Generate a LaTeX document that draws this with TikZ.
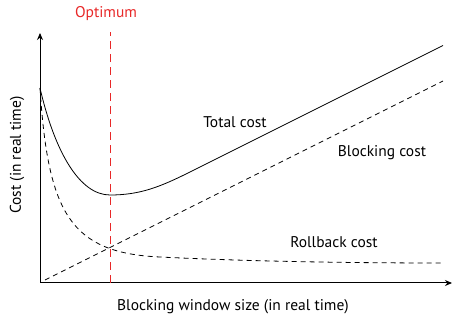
\documentclass[tikz,border=0pt]{standalone}
\usepackage{fontspec}
\setmainfont{PT Sans}
\usetikzlibrary{arrows.meta}
\definecolor{optred}{RGB}{232,40,40}

\begin{document}
\begin{tikzpicture}[font=\fontsize{15.5}{18}\selectfont,x=1pt,y=1pt,
  axis/.style={line width=1pt,-{Stealth[length=7pt,width=6pt]}},
  curve/.style={line width=0.8pt},
  dcurve/.style={line width=0.8pt,dash pattern=on 5pt off 4pt}]
\useasboundingbox (-40,-37) rectangle (415,283);
\coordinate (origin) at (0,0);
\coordinate (ytop) at (0,250);
\coordinate (xend) at (412,0);
\draw[axis] (origin) -- (ytop);
\draw[axis] (origin) -- (xend);
% optimum marker
\coordinate (optlow) at (70,0);
\coordinate (opthigh) at (70,251);
\draw[optred,line width=0.8pt,dash pattern=on 8pt off 5pt] (optlow) -- (opthigh);
\node[optred] (optimum) at (66,269) {Optimum};
% cost curves
\draw[curve] (0,195) .. controls (15,130) and (40,88) .. (70,88)
  .. controls (100,88) and (120,96) .. (150,111) -- (403,237.5);
\draw[dcurve] (5,3) -- (403,202);
\draw[dcurve] (0,195) .. controls (8,70) and (30,30) .. (120,26)
  .. controls (200,22) and (300,20) .. (402,20);
\node (total) at (195,161) {Total cost};
\node (blocking) at (342,130) {Blocking cost};
\node (rollback) at (294,41) {Rollback cost};
\node (xlabel) at (193,-24) {Blocking window size (in real time)};
\node[rotate=90] (ylabel) at (-23,128) {Cost (in real time)};
\end{tikzpicture}
\end{document}
